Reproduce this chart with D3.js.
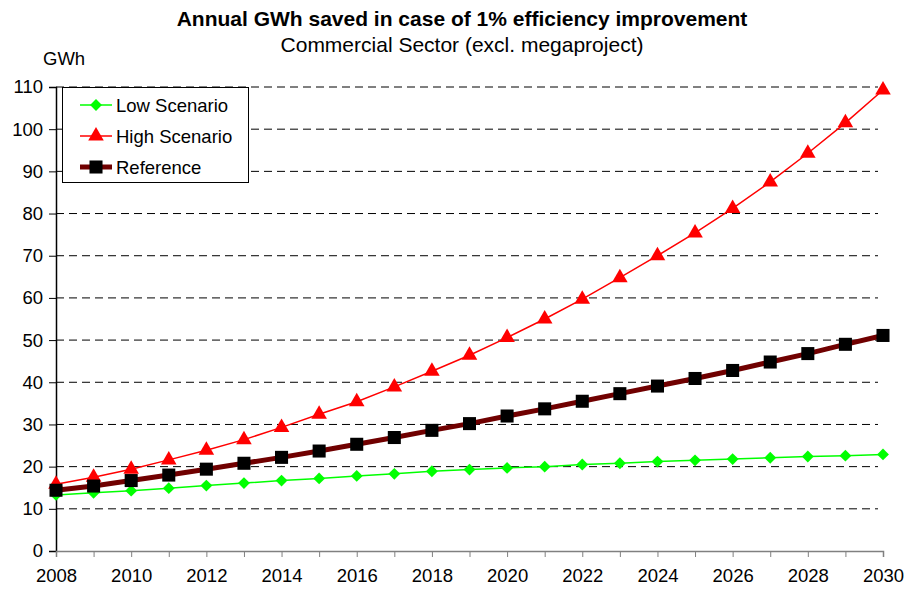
<!DOCTYPE html>
<html>
<head>
<meta charset="utf-8">
<script src="https://cdn.jsdelivr.net/npm/d3@7"></script>
<style>
  body { margin: 0; background: #fff; }
  svg text { font-family: "Liberation Sans", Arial, sans-serif; }
</style>
</head>
<body>
<svg id="chart" width="920" height="590"></svg>
<script>

/* ── data ── */
const years = d3.range(2008, 2031);
const lowScenario  = [13.3, 13.8, 14.3, 14.9, 15.5, 16.1, 16.7, 17.2, 17.8, 18.3, 18.9, 19.3, 19.7, 20.0, 20.5,
                      20.8, 21.2, 21.5, 21.8, 22.1, 22.4, 22.6, 22.9];
const highScenario = [15.8, 17.5, 19.4, 21.6, 23.9, 26.4, 29.3, 32.4, 35.4, 38.9, 42.6, 46.4, 50.6, 55.0, 59.7,
                      64.8, 70.0, 75.4, 81.2, 87.5, 94.3, 101.5, 109.3];
const reference    = [14.4, 15.4, 16.7, 18.0, 19.4, 20.8, 22.2, 23.7, 25.3, 26.9, 28.6, 30.2, 32.0, 33.7, 35.5,
                      37.3, 39.1, 40.9, 42.8, 44.8, 46.8, 49.0, 51.1];
const yTicks = d3.range(0, 111, 10);
const xLabelYears = d3.range(2008, 2031, 2);

const series = [
  { name: 'Low Scenario',  values: lowScenario,  color: '#00ff00', width: 1.5, marker: 'diamond' },
  { name: 'High Scenario', values: highScenario, color: '#ff0000', width: 1.5, marker: 'triangle' },
  { name: 'Reference',     values: reference,    color: '#700000', width: 5,   marker: 'square' }
];

/* ── layout ── */
const svg = d3.select('#chart');
const plotLeft = 56, plotRight = 883, plotTop = 87, plotBottom = 551;

const x = d3.scaleLinear().domain([2008, 2030]).range([plotLeft, plotRight]);
const y = d3.scaleLinear().domain([0, 110]).range([plotBottom, plotTop]);

/* ── titles ── */
svg.append('text')
  .attr('x', 462).attr('y', 26)
  .attr('text-anchor', 'middle')
  .attr('font-size', '21px').attr('font-weight', 'bold')
  .text('Annual GWh saved in case of 1% efficiency improvement');

svg.append('text')
  .attr('x', 462).attr('y', 52)
  .attr('text-anchor', 'middle')
  .attr('font-size', '21px')
  .text('Commercial Sector (excl. megaproject)');

svg.append('text')
  .attr('x', 43).attr('y', 65)
  .attr('font-size', '18.5px')
  .text('GWh');

/* ── gridlines ── */
svg.append('g')
  .selectAll('line')
  .data(yTicks.filter(d => d > 0))
  .join('line')
  .attr('x1', plotLeft).attr('x2', 878)
  .attr('y1', d => y(d)).attr('y2', d => y(d))
  .attr('stroke', '#000')
  .attr('stroke-width', 1)
  .attr('stroke-dasharray', '8,5');

/* ── y axis ── */
const yAxis = svg.append('g')
  .attr('transform', `translate(${plotLeft},0)`)
  .call(d3.axisLeft(y).tickValues(yTicks).tickSize(7).tickPadding(6));
yAxis.select('.domain').attr('stroke', '#000').attr('stroke-width', 1.5);
yAxis.selectAll('.tick line').attr('stroke', '#000');
yAxis.selectAll('text').attr('font-size', '18.5px').attr('fill', '#000')
  .style('font-family', '"Liberation Sans", Arial, sans-serif');

/* ── x axis ── */
const xAxis = svg.append('g')
  .attr('transform', `translate(0,${plotBottom})`)
  .call(d3.axisBottom(x).tickValues(years).tickSize(6).tickPadding(12)
    .tickFormat(d => xLabelYears.includes(d) ? d : ''));
xAxis.select('.domain').attr('stroke', '#808080').attr('stroke-width', 1.5);
xAxis.selectAll('.tick line').attr('stroke', '#808080');
xAxis.selectAll('text').attr('font-size', '18.5px').attr('fill', '#000')
  .style('font-family', '"Liberation Sans", Arial, sans-serif');

/* ── markers ── */
const symbolFor = {
  diamond:  d3.symbol().type(d3.symbolSquare).size(70),
  triangle: d3.symbol().type(d3.symbolTriangle).size(105),
  square:   d3.symbol().type(d3.symbolSquare).size(170)
};
const markerFill = { diamond: '#00ff00', triangle: '#ff0000', square: '#000' };
const markerRotate = { diamond: 45, triangle: 0, square: 0 };

const line = d3.line().x((d, i) => x(years[i])).y(d => y(d));

series.forEach(s => {
  const g = svg.append('g');
  g.append('path')
    .datum(s.values)
    .attr('fill', 'none')
    .attr('stroke', s.color)
    .attr('stroke-width', s.width)
    .attr('d', line);

  g.selectAll('path.mk')
    .data(s.values)
    .join('path')
    .attr('class', 'mk')
    .attr('d', symbolFor[s.marker])
    .attr('fill', markerFill[s.marker])
    .attr('transform', (d, i) => `translate(${x(years[i])},${y(d)}) rotate(${markerRotate[s.marker]})`);
});

/* ── legend ── */
const legend = svg.append('g');
legend.append('rect')
  .attr('x', 62.5).attr('y', 87.5)
  .attr('width', 186).attr('height', 95)
  .attr('fill', '#fff').attr('stroke', '#000').attr('stroke-width', 1);

const rowY = [105, 136, 167];
series.forEach((s, i) => {
  legend.append('line')
    .attr('x1', 80).attr('x2', 112)
    .attr('y1', rowY[i]).attr('y2', rowY[i])
    .attr('stroke', s.color).attr('stroke-width', s.width);
  legend.append('path')
    .attr('d', symbolFor[s.marker])
    .attr('fill', markerFill[s.marker])
    .attr('transform', `translate(96,${rowY[i]}) rotate(${markerRotate[s.marker]})`);
  legend.append('text')
    .attr('x', 116).attr('y', rowY[i] + 6.5)
    .attr('font-size', '18.5px')
    .text(s.name);
});
</script>
</body>
</html>
